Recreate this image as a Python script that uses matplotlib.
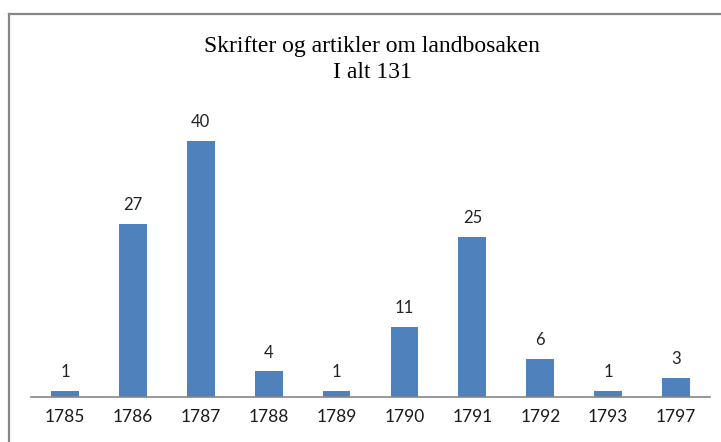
import matplotlib.pyplot as plt
from matplotlib.lines import Line2D

# data
years = ["1785", "1786", "1787", "1788", "1789", "1790", "1791", "1792", "1793", "1797"]
counts = [1, 27, 40, 4, 1, 11, 25, 6, 1, 3]
title_line1 = "Skrifter og artikler om landbosaken"
title_line2 = "I alt 131"

W, H = 721, 442
fig = plt.figure(figsize=(W / 100, H / 100), dpi=100)
fig.patch.set_facecolor("white")

# plot area
ax = fig.add_axes([31 / W, 1 - 397 / H, (710 - 31) / W, (397 - 109) / H])
x = range(len(years))
bars = ax.bar(x, counts, width=0.41, color="#4F81BD")

ax.set_xlim(-0.5, len(years) - 0.5)
ax.set_ylim(0, 45)
ax.set_xticks(list(x))
ax.set_xticklabels(years, fontfamily="Lato", fontsize=12.5, color="#1a1a1a")
ax.tick_params(axis="x", length=0, pad=9)
ax.set_yticks([])
for side in ["top", "right", "left"]:
    ax.spines[side].set_visible(False)
ax.spines["bottom"].set_color("#868686")
ax.spines["bottom"].set_linewidth(1.2)

# value labels
for rect, v in zip(bars, counts):
    ax.annotate(str(v), (rect.get_x() + rect.get_width() / 2, v),
                xytext=(0, 10), textcoords="offset points",
                ha="center", va="baseline", fontfamily="Lato",
                fontsize=12, color="#222222")

# title (two lines)
fig.text(372 / W, 1 - 52 / H, title_line1, ha="center", va="baseline",
         fontfamily="Liberation Serif", fontsize=17, color="black")
fig.text(372 / W, 1 - 78 / H, title_line2, ha="center", va="baseline",
         fontfamily="Liberation Serif", fontsize=17, color="black")

# chart border (only left and top are visible in the crop)
bx, by = 9 / W, 1 - 14 / H
fig.add_artist(Line2D([bx, bx], [0, by], transform=fig.transFigure,
                      color="#878787", linewidth=1.6))
fig.add_artist(Line2D([bx, 1], [by, by], transform=fig.transFigure,
                      color="#878787", linewidth=1.6))

fig.savefig("out.png", dpi=100)
